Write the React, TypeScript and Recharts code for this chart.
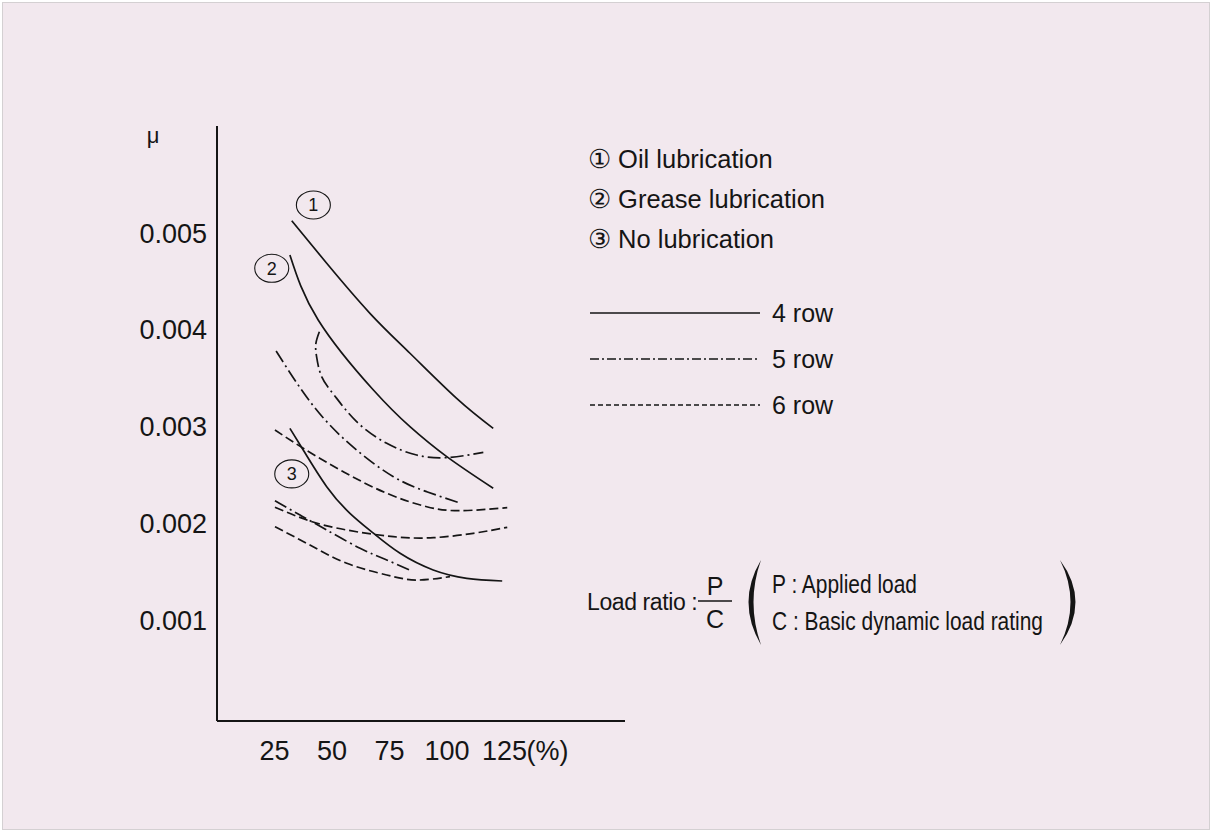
import { LineChart, Line, XAxis, YAxis, ReferenceDot } from "recharts";

// load ratio (%) vs friction coefficient (μ)
const oilRow4 = [
  { load: 32.5, mu: 0.005127 },
  { load: 47.7, mu: 0.004687 },
  { load: 66.5, mu: 0.00417 },
  { load: 83.9, mu: 0.003757 },
  { load: 104.2, mu: 0.003291 },
  { load: 120.1, mu: 0.002981 },
];
const greaseRow4 = [
  { load: 31.7, mu: 0.004773 },
  { load: 44.0, mu: 0.004101 },
  { load: 68.0, mu: 0.003377 },
  { load: 83.9, mu: 0.002998 },
  { load: 99.9, mu: 0.002688 },
  { load: 120.1, mu: 0.002361 },
];
const dryRow4 = [
  { load: 31.7, mu: 0.002981 },
  { load: 37.5, mu: 0.002757 },
  { load: 47.7, mu: 0.002378 },
  { load: 57.8, mu: 0.002103 },
  { load: 68.0, mu: 0.001897 },
  { load: 79.6, mu: 0.001689 },
  { load: 94.0, mu: 0.001517 },
  { load: 108.6, mu: 0.001431 },
  { load: 124.0, mu: 0.001403 },
];
const oilRow5 = [
  { load: 44.5, mu: 0.00398 },
  { load: 43.0, mu: 0.00386 },
  { load: 43.3, mu: 0.003721 },
  { load: 45.5, mu: 0.003515 },
  { load: 50.9, mu: 0.003326 },
  { load: 60.7, mu: 0.00305 },
  { load: 73.8, mu: 0.002826 },
  { load: 86.8, mu: 0.002705 },
  { load: 99.9, mu: 0.002678 },
  { load: 115.8, mu: 0.002733 },
];
const greaseRow5 = [
  { load: 25.7, mu: 0.00378 },
  { load: 36.8, mu: 0.003377 },
  { load: 47.7, mu: 0.00305 },
  { load: 60.7, mu: 0.002757 },
  { load: 76.7, mu: 0.002481 },
  { load: 91.2, mu: 0.002326 },
  { load: 105.3, mu: 0.002212 },
];
const dryRow5 = [
  { load: 25.2, mu: 0.002233 },
  { load: 36.1, mu: 0.002085 },
  { load: 47.7, mu: 0.00193 },
  { load: 62.2, mu: 0.001741 },
  { load: 73.8, mu: 0.00162 },
  { load: 84.7, mu: 0.001506 },
];
const oilRow6 = [
  { load: 25.2, mu: 0.002964 },
  { load: 37.5, mu: 0.002775 },
  { load: 54.9, mu: 0.002533 },
  { load: 73.8, mu: 0.00231 },
  { load: 91.2, mu: 0.002171 },
  { load: 105.7, mu: 0.00213 },
  { load: 126.2, mu: 0.002161 },
];
const greaseRow6 = [
  { load: 25.2, mu: 0.002165 },
  { load: 40.4, mu: 0.002023 },
  { load: 56.4, mu: 0.00193 },
  { load: 76.7, mu: 0.001861 },
  { load: 94.2, mu: 0.001851 },
  { load: 111.4, mu: 0.001896 },
  { load: 126.2, mu: 0.001958 },
];
const dryRow6 = [
  { load: 25.2, mu: 0.001964 },
  { load: 40.4, mu: 0.001775 },
  { load: 56.4, mu: 0.001586 },
  { load: 73.8, mu: 0.001465 },
  { load: 86.8, mu: 0.001413 },
  { load: 101.3, mu: 0.001448 },
];

const xTicks = [25, 50, 75, 100, 125];
const yTicks = [0.001, 0.002, 0.003, 0.004, 0.005];

const lubLabels = ["① Oil lubrication", "② Grease lubrication", "③ No lubrication"];
const rowLabels = ["4 row", "5 row", "6 row"];
// curve tags: [number, load, mu]
const curveTags: [string, number, number][] = [
  ["1", 41.9, 0.00529],
  ["2", 23.8, 0.004635],
  ["3", 32.5, 0.00251],
];

const INK = "#151515";
const SANS = "'Liberation Sans', Arial, sans-serif";
const DASH_ROW5 = "13 4 2 4";
const DASH_ROW6 = "9 4";
const rowDash = ["", "9 3 2 3", "5 3"];

const series = [
  { key: "oil4", data: oilRow4, dash: undefined },
  { key: "grease4", data: greaseRow4, dash: undefined },
  { key: "dry4", data: dryRow4, dash: undefined },
  { key: "oil5", data: oilRow5, dash: DASH_ROW5 },
  { key: "grease5", data: greaseRow5, dash: DASH_ROW5 },
  { key: "dry5", data: dryRow5, dash: DASH_ROW5 },
  { key: "oil6", data: oilRow6, dash: DASH_ROW6 },
  { key: "grease6", data: greaseRow6, dash: DASH_ROW6 },
  { key: "dry6", data: dryRow6, dash: DASH_ROW6 },
];

const XTick = ({ x, y, payload }: any) => (
  <g fontFamily={SANS} fontSize={27} fill={INK}>
    <text x={x} y={y + 39} textAnchor="middle">
      {payload.value}
    </text>
    {payload.value === 125 && (
      <text x={x + 22} y={y + 39} textAnchor="start">
        (%)
      </text>
    )}
  </g>
);

const Tag = (label: string) => (props: any) => (
  <g>
    <ellipse cx={props.cx} cy={props.cy} rx={17} ry={14} fill="none" stroke={INK} strokeWidth={1.1} />
    <text x={props.cx} y={props.cy + 6.5} textAnchor="middle" fontFamily={SANS} fontSize={18} fill={INK}>
      {label}
    </text>
  </g>
);

function ChartKey() {
  const squeeze = { lengthAdjust: "spacingAndGlyphs" as const };
  return (
    <g fontFamily={SANS} fill={INK}>
      <text x={153} y={143} fontSize={22} textAnchor="middle">
        μ
      </text>
      {lubLabels.map((t, i) => (
        <text key={t} x={588} y={168 + i * 40} fontSize={25.5}>
          {t}
        </text>
      ))}
      {rowLabels.map((t, i) => (
        <g key={t}>
          <line x1={590} x2={760} y1={313 + i * 46} y2={313 + i * 46} stroke={INK} strokeWidth={1.6} strokeDasharray={rowDash[i] || undefined} />
          <text x={772} y={322 + i * 46} fontSize={25}>
            {t}
          </text>
        </g>
      ))}
      <text x={587} y={610} fontSize={23} letterSpacing={-0.4}>
        Load ratio :
      </text>
      <text x={715} y={595} fontSize={25} textAnchor="middle">
        P
      </text>
      <line x1={698} x2={732} y1={601} y2={601} stroke={INK} strokeWidth={1.4} />
      <text x={715} y={628} fontSize={25} textAnchor="middle">
        C
      </text>
      <path d="M761 560 Q736 602 761 645 Q746 602 761 560 Z" fill={INK} />
      <path d="M1060 560 Q1091 602 1060 645 Q1081 602 1060 560 Z" fill={INK} />
      <text x={772} y={593} fontSize={25} textLength={145} {...squeeze}>
        P : Applied load
      </text>
      <text x={772} y={630} fontSize={25} textLength={271} {...squeeze}>
        C : Basic dynamic load rating
      </text>
    </g>
  );
}

export default function App() {
  return (
    <div style={{ position: "absolute", left: 0, top: 0, width: 1212, height: 832, background: "#fff" }}>
      <div
        style={{
          position: "absolute",
          left: 2,
          top: 2,
          width: 1208,
          height: 828,
          boxSizing: "border-box",
          border: "1px solid #d4d0d2",
          background: "#f2e8ee",
        }}
      />
      <div style={{ position: "absolute", left: 0, top: 0 }}>
        <LineChart width={1212} height={832} margin={{ top: 126, right: 587, bottom: 51, left: 137 }}>
          <XAxis
            type="number"
            dataKey="load"
            domain={[0, 177.4]}
            ticks={xTicks}
            tick={<XTick />}
            tickLine={false}
            tickSize={0}
            tickMargin={0}
            height={60}
            axisLine={{ stroke: INK, strokeWidth: 1.8 }}
            allowDataOverflow
          />
          <YAxis
            type="number"
            dataKey="mu"
            domain={[-0.000044, 0.006106]}
            ticks={yTicks}
            tickLine={false}
            tickSize={0}
            tickMargin={10}
            width={80}
            tick={{ fontSize: 27, fill: INK, fontFamily: SANS }}
            axisLine={{ stroke: INK, strokeWidth: 2 }}
            allowDataOverflow
          />
          {series.map((s) => (
            <Line
              key={s.key}
              data={s.data}
              dataKey="mu"
              type="natural"
              stroke={INK}
              strokeWidth={1.7}
              strokeDasharray={s.dash}
              dot={false}
              activeDot={false}
              isAnimationActive={false}
            />
          ))}
          {curveTags.map(([label, load, mu]) => (
            <ReferenceDot key={label} x={load} y={mu} r={14} shape={Tag(label)} />
          ))}
          <ChartKey />
        </LineChart>
      </div>
    </div>
  );
}
